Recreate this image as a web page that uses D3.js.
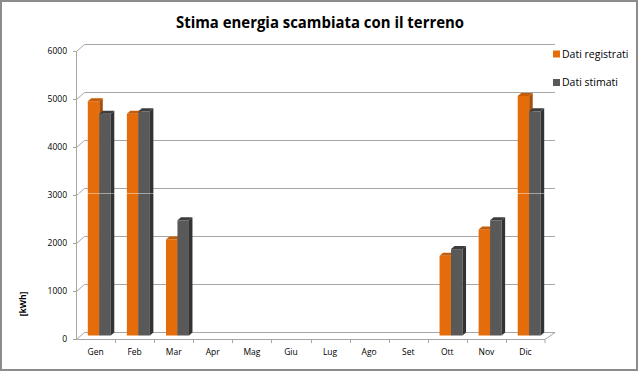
<!DOCTYPE html>
<html>
<head>
<meta charset="utf-8">
<script src="https://cdn.jsdelivr.net/npm/d3@7"></script>
<style>
  body { margin: 0; background: #fff; }
  svg { display: block; }
</style>
</head>
<body>
<div id="chart"></div>
<script>
// monthly categories and the two series (null = no data)
var months = ["Gen", "Feb", "Mar", "Apr", "Mag", "Giu", "Lug", "Ago", "Set", "Ott", "Nov", "Dic"];
var registrati = [4880, 4620, 2000, null, null, null, null, null, null, 1660, 2210, 4990];
var stimati = [4620, 4670, 2400, null, null, null, null, null, null, 1800, 2400, 4670];
var yTicks = [0, 1000, 2000, 3000, 4000, 5000, 6000];
var seriesNames = ["Dati registrati", "Dati stimati"];

var w = 640, h = 372;
var depth = { x: 8.5, y: -7 };      // wall depth of the 3d box
var barDepth = { x: 3.5, y: -3 };   // depth of each bar

var svg = d3.select("#chart").append("svg")
  .attr("width", w)
  .attr("height", h);

// outer frame
svg.append("rect")
  .attr("x", 1).attr("y", 1)
  .attr("width", 636).attr("height", 369)
  .attr("fill", "#fff")
  .attr("stroke", "#8c8c8c")
  .attr("stroke-width", 2);

svg.append("text")
  .attr("x", 320).attr("y", 28)
  .attr("text-anchor", "middle")
  .attr("font-family", "Open Sans, sans-serif")
  .attr("font-weight", "bold")
  .attr("font-size", 16)
  .attr("textLength", 288)
  .attr("lengthAdjust", "spacingAndGlyphs")
  .attr("fill", "#000")
  .text("Stima energia scambiata con il terreno");

var x = d3.scaleBand().domain(months).range([76, 545]);
var y = d3.scaleLinear().domain([0, 6000]).range([339, 51]);

var grid = svg.append("g").attr("stroke", "#a6a6a6").attr("stroke-width", 1).attr("fill", "none");

// back wall gridlines and side wall diagonals
yTicks.forEach(function(t) {
  var yy = Math.round(y(t)) + 0.5;
  grid.append("line")
    .attr("x1", 76 + depth.x).attr("y1", yy + depth.y)
    .attr("x2", 545 + depth.x + 1.5).attr("y2", yy + depth.y);
  grid.append("line")
    .attr("x1", 76.5).attr("y1", yy)
    .attr("x2", 76 + depth.x).attr("y2", yy + depth.y);
  grid.append("line")
    .attr("x1", 73).attr("y1", yy)
    .attr("x2", 76.5).attr("y2", yy);
});

// front y axis line
grid.append("line")
  .attr("x1", 76.5).attr("y1", y(6000))
  .attr("x2", 76.5).attr("y2", y(0) + 0.5);

// floor front edge and right edge
grid.append("line")
  .attr("x1", 76.5).attr("y1", y(0) + 0.5)
  .attr("x2", 545).attr("y2", y(0) + 0.5);
grid.append("line")
  .attr("x1", 545).attr("y1", y(0) + 0.5)
  .attr("x2", 545 + depth.x + 1.5).attr("y2", y(0) + 0.5 + depth.y);

// category ticks
months.forEach(function(m, i) {
  var xx = Math.round(x(m)) + 0.5;
  if (i > 0) {
    grid.append("line")
      .attr("x1", xx).attr("y1", y(0) + 0.5)
      .attr("x2", xx).attr("y2", y(0) + 4);
  }
});
grid.append("line")
  .attr("x1", 545).attr("y1", y(0) + 0.5)
  .attr("x2", 545).attr("y2", y(0) + 4);

// y tick labels
svg.append("g").selectAll("text")
  .data(yTicks)
  .enter()
  .append("text")
  .attr("x", 67)
  .attr("y", function(d) { return y(d); })
  .attr("dy", "0.35em")
  .attr("text-anchor", "end")
  .attr("font-family", "Open Sans, sans-serif")
  .attr("font-size", 8.5)
  .attr("fill", "#000")
  .text(function(d) { return d; });

// category labels
svg.append("g").selectAll("text")
  .data(months)
  .enter()
  .append("text")
  .attr("x", function(d) { return x(d) + x.bandwidth() / 2; })
  .attr("y", 355)
  .attr("text-anchor", "middle")
  .attr("font-family", "Open Sans, sans-serif")
  .attr("font-size", 8.5)
  .attr("fill", "#000")
  .text(function(d) { return d; });

svg.append("text")
  .attr("transform", "translate(23,304) rotate(-90)")
  .attr("text-anchor", "middle")
  .attr("dy", "0.35em")
  .attr("font-family", "Open Sans, sans-serif")
  .attr("font-weight", "bold")
  .attr("font-size", 8.5)
  .attr("fill", "#000")
  .text("[kWh]");

// bars, drawn as 3d boxes
var palette = [
  { front: "#e46c0a", top: "#c45c08", side: "#a84e06" },
  { front: "#595959", top: "#3d3d3d", side: "#333333" }
];
var barW = 11.5;
var offX = depth.x / 2 - 0.5, offY = depth.y / 2;

var bars = svg.append("g");
months.forEach(function(m, i) {
  [registrati[i], stimati[i]].forEach(function(v, s) {
    if (v == null) return;
    var c = palette[s];
    var x0 = x(m) + x.bandwidth() / 2 - barW + s * barW + offX;
    var x1 = x0 + barW;
    var yt = y(v) + offY;
    var yb = y(0) + offY;
    var g = bars.append("g");
    g.append("rect")
      .attr("x", x0).attr("y", yt)
      .attr("width", barW).attr("height", yb - yt)
      .attr("fill", c.front);
    g.append("path")
      .attr("d", "M" + x0 + "," + yt + "L" + (x0 + barDepth.x) + "," + (yt + barDepth.y) +
                 "L" + (x1 + barDepth.x) + "," + (yt + barDepth.y) + "L" + x1 + "," + yt + "Z")
      .attr("fill", c.top);
    g.append("path")
      .attr("d", "M" + x1 + "," + yt + "L" + (x1 + barDepth.x) + "," + (yt + barDepth.y) +
                 "L" + (x1 + barDepth.x) + "," + (yb + barDepth.y) + "L" + x1 + "," + yb + "Z")
      .attr("fill", c.side);
  });
});

// faint light streak across the plot seen in the original
svg.append("line")
  .attr("x1", 77).attr("y1", 193.5)
  .attr("x2", 555).attr("y2", 193.5)
  .attr("stroke", "#ffffff")
  .attr("stroke-opacity", 0.45)
  .attr("stroke-width", 1);

// legend
var legend = svg.append("g");
seriesNames.forEach(function(name, i) {
  var ly = 54 + i * 28.5;
  legend.append("rect")
    .attr("x", 553).attr("y", ly - 3.5)
    .attr("width", 7).attr("height", 7)
    .attr("fill", palette[i].front);
  legend.append("text")
    .attr("x", 562).attr("y", ly)
    .attr("dy", "0.35em")
    .attr("font-family", "Open Sans, sans-serif")
    .attr("font-size", 10.5)
    .attr("fill", "#000")
    .text(name);
});
</script>
</body>
</html>
